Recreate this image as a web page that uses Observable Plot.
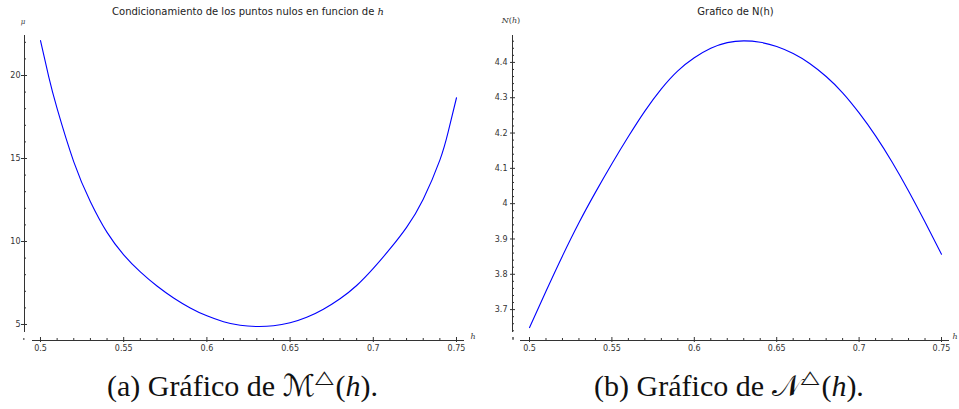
<!DOCTYPE html>
<html><head><meta charset="utf-8">
<script src="https://cdn.jsdelivr.net/npm/d3@7"></script>
<script src="https://cdn.jsdelivr.net/npm/@observablehq/plot@0.6"></script>
<style>
html,body{margin:0;padding:0;background:#fff;}
#wrap{position:relative;width:959px;height:409px;overflow:hidden;background:#fff;}
.abs{position:absolute;white-space:nowrap;line-height:1;transform:translateX(-50%);}
.title{font-family:"DejaVu Sans";font-size:10px;color:#222;}
.cap{font-family:"Liberation Serif";font-size:30px;color:#111;}
.math{font-family:"DejaVu Serif";font-style:italic;}
.ax{font-family:"DejaVu Serif";color:#333;}
.sup{display:inline-block;font-size:18px;position:relative;top:-13px;font-family:"DejaVu Sans";transform:scaleX(1.35);margin:0 4px 0 3px;}
.cal{font-family:"DejaVu Sans";font-style:normal;}
#left{position:absolute;left:0;top:0;}
#right{position:absolute;left:480px;top:0;}
</style></head><body>
<div id="wrap">
  <div id="left"></div>
  <div id="right"></div>
  <div class="abs title" style="left:248px;top:6.5px">Condicionamiento de los puntos nulos en funcion de <span class="math">h</span></div>
  <div class="abs title" style="left:735.5px;top:6.5px">Grafico de N(h)</div>
  <div class="abs ax" style="left:23px;top:19px;font-size:7px;font-style:italic">μ</div>
  <div class="abs ax" style="left:511px;top:17px;font-size:8px"><i>N</i>(<i>h</i>)</div>
  <div class="abs ax" style="left:473px;top:333px;font-size:8px;font-style:italic">h</div>
  <div class="abs ax" style="left:955px;top:333px;font-size:8px;font-style:italic">h</div>
  <div class="abs cap" style="left:242.5px;top:371px">(a) Gráfico de <span class="cal">ℳ</span><span class="sup">△</span>(<i>h</i>).</div>
  <div class="abs cap" style="left:729px;top:371px">(b) Gráfico de <span class="cal">𝒩</span><span class="sup">△</span>(<i>h</i>).</div>
</div>
<script>
// Panel (a): conditioning mu(h)
const hM = [0.5, 0.505, 0.51, 0.52, 0.53, 0.54, 0.55, 0.56, 0.57, 0.58, 0.59, 0.6, 0.61, 0.62, 0.63, 0.64, 0.65, 0.66, 0.67, 0.68, 0.69, 0.7, 0.71, 0.72, 0.73, 0.74, 0.745, 0.75];
const muVals = [22.1, 19.9, 18.0, 14.8, 12.4, 10.55, 9.2, 8.17, 7.32, 6.6, 6.0, 5.52, 5.17, 4.95, 4.88, 4.92, 5.1, 5.43, 5.92, 6.55, 7.35, 8.38, 9.55, 10.85, 12.55, 14.9, 16.6, 18.66];

// Panel (b): N(h)
const hN = [0.5, 0.51, 0.52, 0.53, 0.54, 0.55, 0.56, 0.57, 0.58, 0.59, 0.6, 0.61, 0.62, 0.63, 0.64, 0.65, 0.66, 0.67, 0.68, 0.69, 0.7, 0.71, 0.72, 0.73, 0.74, 0.75];
const nVals = [3.649, 3.752, 3.852, 3.946, 4.032, 4.113, 4.19, 4.262, 4.325, 4.376, 4.413, 4.44, 4.456, 4.461, 4.457, 4.445, 4.425, 4.397, 4.36, 4.314, 4.257, 4.192, 4.118, 4.036, 3.948, 3.857];

// Tick labels
const xTicks = [0.5, 0.55, 0.6, 0.65, 0.7, 0.75];
const xMinor = [0.49, 0.51, 0.52, 0.53, 0.54, 0.56, 0.57, 0.58, 0.59, 0.61, 0.62, 0.63, 0.64, 0.66, 0.67, 0.68, 0.69, 0.71, 0.72, 0.73, 0.74];
const muTicks = [5, 10, 15, 20];
const muMinor = [6, 7, 8, 9, 11, 12, 13, 14, 16, 17, 18, 19, 21, 22];
const nTicks = [3.7, 3.8, 3.9, 4, 4.1, 4.2, 4.3, 4.4];
const nMinor = [3.62, 3.64, 3.66, 3.68, 3.72, 3.74, 3.76, 3.78, 3.82, 3.84, 3.86, 3.88, 3.92, 3.94, 3.96, 3.98, 4.02, 4.04, 4.06, 4.08, 4.12, 4.14, 4.16, 4.18, 4.22, 4.24, 4.26, 4.28, 4.32, 4.34, 4.36, 4.38, 4.42, 4.44, 4.46];

const mData = hM.map((h, i) => ({h, v: muVals[i]}));
const nData = hN.map((h, i) => ({h, v: nVals[i]}));

const axisColor = "#333";
const fmt = d => String(d);
const baseStyle = {background: "transparent", color: axisColor, fontFamily: "DejaVu Sans", fontSize: "8px", overflow: "visible"};

function panel({data, width, mL, mR, xDom, yDom, yAxisBottom, xAxisStart, yT, yMinor, yTickSize, yDx, yPad}) {
  return Plot.plot({
    width, height: 350,
    marginLeft: mL, marginRight: mR, marginTop: 35, marginBottom: 10,
    x: {domain: xDom},
    y: {domain: yDom},
    style: baseStyle,
    marks: [
      Plot.ruleX([xDom[0]], {y1: yAxisBottom, y2: yDom[1], stroke: axisColor, strokeWidth: 1}),
      Plot.ruleY([yDom[0]], {x1: xAxisStart, x2: xDom[1], stroke: axisColor, strokeWidth: 1}),
      Plot.axisY({ticks: yMinor, tickSize: 2, dx: 2, tickFormat: () => "", label: null}),
      Plot.axisY({ticks: yT, tickSize: yTickSize, dx: yDx, tickPadding: yPad, tickFormat: fmt, label: null}),
      Plot.axisX({ticks: xMinor, tickSize: 2, dy: -2, tickFormat: () => "", label: null}),
      Plot.axisX({ticks: xTicks, tickSize: 5, dy: -3, tickPadding: 3, tickFormat: fmt, label: null}),
      Plot.line(data, {x: "h", y: "v", stroke: "#0000ff", strokeWidth: 1.1, curve: "natural"})
    ]
  });
}

document.getElementById("left").append(panel({
  data: mData, width: 480, mL: 24, mR: 16,
  xDom: [0.490385, 0.754808], yDom: [4.036, 22.41],
  yAxisBottom: 4.518, xAxisStart: 0.495192,
  yT: muTicks, yMinor: muMinor, yTickSize: 6, yDx: 3, yPad: 1
}));

document.getElementById("right").append(panel({
  data: nData, width: 479, mL: 32, mR: 10,
  xDom: [0.48968, 0.754854], yDom: [3.6125, 4.4762],
  yAxisBottom: 3.6351, xAxisStart: 0.494539,
  yT: nTicks, yMinor: nMinor, yTickSize: 5, yDx: 3, yPad: 3
}));
</script>
</body></html>
